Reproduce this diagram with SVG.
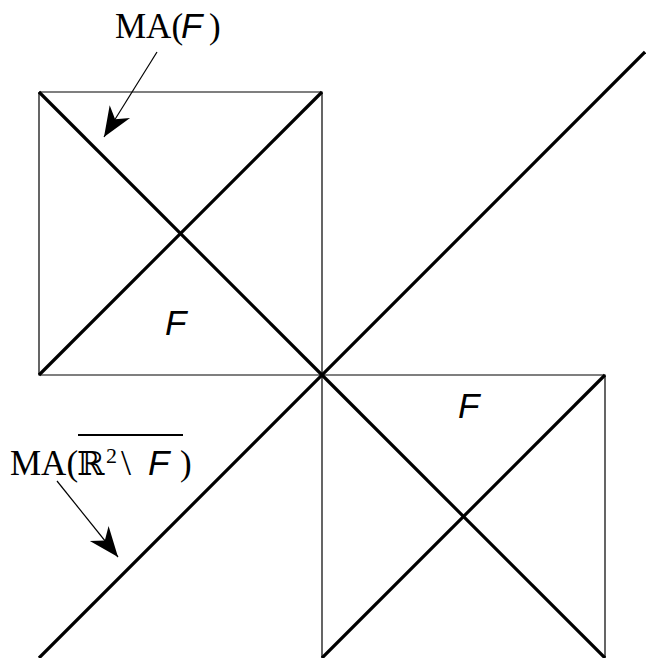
<svg xmlns="http://www.w3.org/2000/svg" width="646" height="658" viewBox="0 0 646 658">
<style>
.thin{stroke:#000;stroke-width:1.2;fill:none}
.thick{stroke:#000;stroke-width:3.2;fill:none;stroke-linecap:butt}
.ptr{stroke:#000;stroke-width:1.2;fill:none}
.serif{font-family:"Liberation Serif","DejaVu Serif",serif;font-size:35px;fill:#000}
.sans{font-family:"Liberation Sans","DejaVu Sans",sans-serif;font-style:italic;font-size:35px;fill:#000}
</style>
<defs>
<marker id="ah" markerUnits="userSpaceOnUse" markerWidth="34" markerHeight="28" viewBox="-32 -14 34 28" refX="0" refY="0" orient="auto">
<path d="M0,0 L-30,-12 L-21,0 L-30,12 Z" fill="#000"/>
</marker>
</defs>
<rect width="646" height="658" fill="#fff"/>
<g id="edges">
<path class="thin" d="M39,92 H322 V658"/>
<path class="thin" d="M39,92 V375 H605 V658"/>
<path class="thick" d="M39,92 L322,375 L605,658"/>
<path class="thick" d="M39,375 L322,92"/>
<path class="thick" d="M39,658 L645,52"/>
<path class="thick" d="M322,658 L605,375"/>
</g>
<g id="connectors">
<line class="ptr" x1="157" y1="52" x2="104" y2="137" marker-end="url(#ah)"/>
<line class="ptr" x1="57" y1="481" x2="118" y2="557" marker-end="url(#ah)"/>
</g>
<g id="label-F1"><text class="sans" x="165" y="335">F</text></g>
<g id="label-F2"><text class="sans" x="458" y="418">F</text></g>
<g id="label-MAF">
<text class="serif" x="115" y="38">MA(<tspan x="181" class="sans">F</tspan><tspan x="209">)</tspan></text>
</g>
<g id="label-MAc">
<text class="serif" x="10" y="475" font-size="33">MA(<tspan x="77" font-family="DejaVu Serif" font-size="33">ℝ</tspan><tspan x="106" y="463" font-size="22">2</tspan><tspan x="121" y="475" font-size="36">\</tspan><tspan x="148" class="sans">F</tspan><tspan x="180" font-size="35">)</tspan></text>
<line x1="78" y1="435" x2="183" y2="435" stroke="#000" stroke-width="2"/>
</g>
</svg>
